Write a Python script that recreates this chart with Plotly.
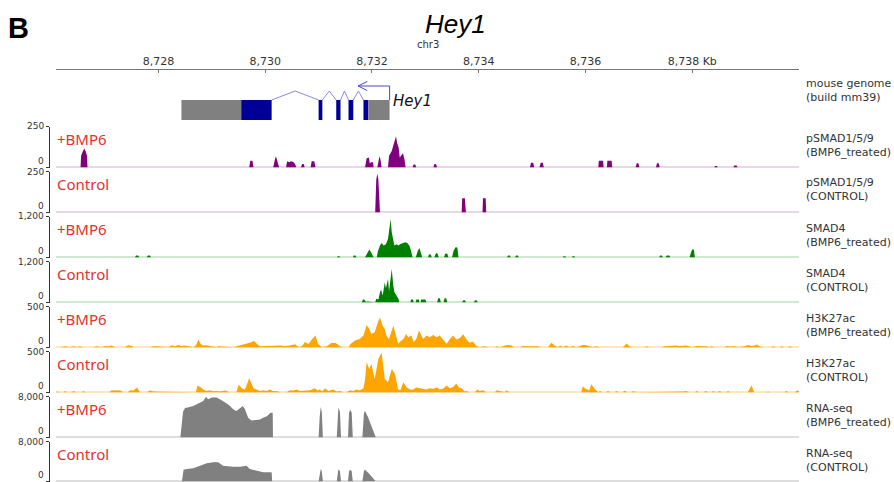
import plotly.graph_objects as go

# ---------------- data (positions in kb on chr3) ----------------
axis_ticks_kb = [8728, 8730, 8732, 8734, 8736, 8738]
axis_tick_labels = ["8,728", "8,730", "8,732", "8,734", "8,736", "8,738 Kb"]
view_kb = [8726.08, 8740.0]

# gene model Hey1 (minus strand)
exon_start = [8728.43, 8729.55, 8731.00, 8731.33, 8731.56, 8731.84, 8731.93]
exon_end   = [8729.55, 8730.12, 8731.07, 8731.41, 8731.65, 8731.93, 8732.33]
exon_kind  = ["utr", "cds", "cds", "cds", "cds", "cds", "utr"]
intron_start = [8730.12, 8731.07, 8731.41, 8731.65]
intron_end   = [8731.00, 8731.33, 8731.56, 8731.84]
tss_kb = 8732.33
arrow_tip_kb = 8731.74

track_names = ["pSMAD1/5/9<br>(BMP6_treated)", "pSMAD1/5/9<br>(CONTROL)",
               "SMAD4<br>(BMP6_treated)", "SMAD4<br>(CONTROL)",
               "H3K27ac<br>(BMP6_treated)", "H3K27ac<br>(CONTROL)",
               "RNA-seq<br>(BMP6_treated)", "RNA-seq<br>(CONTROL)"]
condition = ["+BMP6", "Control"] * 4
track_max = [250, 250, 1200, 1200, 500, 500, 8000, 8000]

psmad_bmp6_kb = [8726.54, 8726.55, 8726.58, 8726.61, 8726.64, 8726.66, 8726.67,
                 8729.70, 8729.72, 8729.76, 8729.78,
                 8730.15, 8730.18, 8730.20, 8730.22, 8730.26,
                 8730.39, 8730.41, 8730.45, 8730.48, 8730.52, 8730.56, 8730.58,
                 8730.67, 8730.69, 8730.72, 8730.74,
                 8730.85, 8730.87, 8730.92, 8730.94,
                 8731.87, 8731.90, 8731.94, 8731.96, 8731.98, 8732.02, 8732.03,
                 8732.10, 8732.12, 8732.14, 8732.16, 8732.18,
                 8732.30, 8732.32, 8732.37, 8732.40, 8732.43, 8732.45, 8732.47, 8732.50,
                 8732.52, 8732.55, 8732.58, 8732.61, 8732.63,
                 8732.76, 8732.78, 8732.81, 8732.83,
                 8733.15, 8733.17, 8733.20, 8733.22,
                 8734.96, 8734.98, 8735.02, 8735.04,
                 8735.14, 8735.16, 8735.20, 8735.22,
                 8736.24, 8736.25, 8736.33, 8736.34,
                 8736.40, 8736.41, 8736.49, 8736.50,
                 8736.94, 8736.96, 8736.99, 8737.01,
                 8737.32, 8737.34, 8737.37, 8737.39,
                 8738.41, 8738.43, 8738.46, 8738.48,
                 8738.77, 8738.79, 8738.83, 8738.85]
psmad_bmp6_val = [0, 70, 95, 115, 95, 70, 0,
                  0, 40, 40, 0,
                  0, 45, 67, 45, 0,
                  0, 36, 30, 36, 34, 20, 0,
                  0, 20, 20, 0,
                  0, 36, 36, 0,
                  0, 55, 60, 22, 30, 30, 0,
                  0, 50, 67, 45, 0,
                  0, 70, 100, 140, 170, 190, 150, 120, 60, 70, 85, 45, 0,
                  0, 16, 16, 0,
                  0, 20, 18, 0,
                  0, 28, 28, 0,
                  0, 28, 28, 0,
                  0, 40, 40, 0,
                  0, 40, 40, 0,
                  0, 24, 24, 0,
                  0, 24, 24, 0,
                  0, 8, 8, 0,
                  0, 10, 10, 0]

psmad_ctrl_kb = [8732.06, 8732.08, 8732.10, 8732.12, 8732.15,
                 8733.68, 8733.69, 8733.74, 8733.76,
                 8734.07, 8734.08, 8734.13, 8734.14]
psmad_ctrl_val = [0, 200, 238, 200, 0,
                  0, 85, 85, 0,
                  0, 85, 85, 0]

smad4_bmp6_kb = [8727.56, 8727.58, 8727.62, 8727.64,
                 8727.78, 8727.80, 8727.84, 8727.86,
                 8731.34, 8731.36, 8731.39, 8731.41,
                 8731.64, 8731.66, 8731.69, 8731.71,
                 8731.87, 8731.90, 8731.95, 8731.99, 8732.03,
                 8732.09, 8732.11, 8732.15, 8732.18, 8732.22, 8732.26, 8732.30, 8732.32,
                 8732.35, 8732.37, 8732.40, 8732.42, 8732.46, 8732.50, 8732.53, 8732.57,
                 8732.62, 8732.66, 8732.70, 8732.73, 8732.76,
                 8732.82, 8732.86, 8732.89, 8732.92, 8732.94,
                 8733.05, 8733.07, 8733.10, 8733.12,
                 8733.17, 8733.20, 8733.23, 8733.25,
                 8733.35, 8733.37, 8733.41, 8733.43,
                 8733.50, 8733.53, 8733.57, 8733.60, 8733.62,
                 8734.53, 8734.55, 8734.58, 8734.60,
                 8734.68, 8734.70, 8734.73, 8734.75,
                 8735.57, 8735.59, 8735.62, 8735.64,
                 8735.74, 8735.76, 8735.79, 8735.81,
                 8737.38, 8737.40, 8737.43, 8737.45,
                 8737.50, 8737.52, 8737.57, 8737.59,
                 8737.95, 8737.98, 8738.00, 8738.03, 8738.05]
smad4_bmp6_val = [0, 50, 50, 0,
                  0, 50, 50, 0,
                  0, 30, 30, 0,
                  0, 50, 50, 0,
                  0, 100, 225, 120, 0,
                  0, 166, 342, 420, 342, 381, 537, 830,
                  1123, 733, 440, 342, 381, 342, 391, 420,
                  440, 420, 342, 195, 0,
                  0, 200, 264, 120, 0,
                  0, 88, 80, 0,
                  0, 127, 100, 0,
                  0, 100, 107, 0,
                  0, 200, 303, 280, 0,
                  0, 50, 50, 0,
                  0, 50, 50, 0,
                  0, 30, 30, 0,
                  0, 30, 30, 0,
                  0, 50, 50, 0,
                  0, 50, 50, 0,
                  0, 150, 225, 225, 0]

smad4_ctrl_kb = [8731.81, 8731.83, 8731.86, 8731.88,
                 8731.89, 8731.90, 8731.95, 8731.96,
                 8732.06, 8732.08, 8732.12, 8732.15, 8732.17, 8732.20, 8732.24, 8732.26,
                 8732.30, 8732.32, 8732.35, 8732.37, 8732.40, 8732.42, 8732.46, 8732.50, 8732.51,
                 8732.72, 8732.73, 8732.77, 8732.78,
                 8732.82, 8732.83, 8732.88, 8732.89,
                 8732.91, 8732.92, 8733.00, 8733.02,
                 8733.22, 8733.24, 8733.27, 8733.29,
                 8733.34, 8733.36, 8733.39, 8733.41,
                 8733.69, 8733.71, 8733.74, 8733.76,
                 8733.91, 8733.93, 8733.96, 8733.98]
smad4_ctrl_val = [0, 78, 70, 0,
                  0, 20, 20, 0,
                  0, 98, 78, 293, 371, 195, 586, 410,
                  684, 332, 684, 977, 488, 293, 195, 78, 0,
                  0, 78, 78, 0,
                  0, 78, 78, 0,
                  0, 78, 78, 0,
                  0, 117, 117, 0,
                  0, 117, 117, 0,
                  0, 59, 59, 0,
                  0, 59, 59, 0]

h3k27ac_bmp6_kb = [8726.16, 8726.25, 8726.34, 8726.41, 8726.47, 8726.53, 8726.59, 8726.78, 8726.84,
                   8726.90, 8726.94, 8727.00, 8727.06, 8727.12, 8727.19, 8727.37, 8727.43, 8727.50,
                   8727.53, 8727.84, 8727.90, 8727.97, 8728.03, 8728.09, 8728.18, 8728.25, 8728.31,
                   8728.37, 8728.43, 8728.50, 8728.59, 8728.65, 8728.70, 8728.75, 8728.79, 8728.84,
                   8728.90, 8728.96, 8729.03, 8729.09, 8729.12, 8729.21, 8729.31, 8729.40, 8729.46,
                   8729.56, 8729.65, 8729.71, 8729.79, 8729.84, 8729.90, 8729.99, 8730.09, 8730.18,
                   8730.28, 8730.37, 8730.46, 8730.56, 8730.60, 8730.65, 8730.70, 8730.74, 8730.81,
                   8730.87, 8730.94, 8730.99, 8731.06, 8731.15, 8731.24, 8731.32, 8731.40, 8731.46,
                   8731.56, 8731.60, 8731.68, 8731.77, 8731.84, 8731.90, 8731.95, 8731.99, 8732.05,
                   8732.12, 8732.15, 8732.20, 8732.24, 8732.27, 8732.32, 8732.37, 8732.40, 8732.45,
                   8732.49, 8732.53, 8732.59, 8732.64, 8732.68, 8732.74, 8732.78, 8732.83, 8732.88,
                   8732.96, 8733.02, 8733.08, 8733.15, 8733.21, 8733.27, 8733.33, 8733.40, 8733.46,
                   8733.52, 8733.58, 8733.64, 8733.71, 8733.77, 8733.83, 8733.89, 8733.96, 8734.02,
                   8734.11, 8734.18, 8734.30, 8734.34, 8734.39, 8734.46, 8734.53, 8734.61, 8734.67,
                   8734.77, 8734.83, 8734.92, 8735.02, 8735.11, 8735.17, 8735.30, 8735.36, 8735.42,
                   8735.49, 8735.52, 8735.58, 8735.64, 8735.70, 8735.77, 8735.83, 8735.89, 8735.95,
                   8736.02, 8736.08, 8736.14, 8736.20, 8736.27, 8736.70, 8736.77, 8736.83, 8736.89,
                   8737.11, 8737.14, 8737.20, 8737.42, 8737.48, 8737.58, 8737.64, 8737.70, 8737.76,
                   8737.83, 8737.89, 8737.95, 8738.01, 8738.08, 8738.14, 8738.20, 8738.26, 8738.33,
                   8738.36, 8738.42, 8738.61, 8738.64, 8738.70, 8738.79, 8738.86, 8738.98, 8739.04,
                   8739.11, 8739.17, 8739.21, 8739.26, 8739.33, 8739.48, 8739.51, 8739.58, 8739.64,
                   8739.67, 8739.73, 8739.79, 8739.82, 8739.89]
h3k27ac_bmp6_val = [0, 12, 0, 12, 0, 12, 0, 0, 12,
                    0, 0, 16, 12, 20, 0, 0, 24, 16,
                    0, 0, 12, 12, 8, 0, 0, 24, 12,
                    28, 16, 20, 12, 0, 20, 94, 40, 20,
                    24, 16, 0, 0, 12, 8, 12, 0, 12,
                    28, 49, 53, 77, 41, 12, 16, 20, 16,
                    20, 16, 20, 37, 12, 0, 20, 65, 40,
                    90, 143, 40, 0, 12, 50, 50, 12, 0,
                    0, 40, 81, 102, 143, 272, 224, 163, 183,
                    326, 366, 264, 224, 143, 102, 204, 264, 143,
                    41, 69, 102, 163, 122, 143, 61, 102, 204,
                    102, 143, 122, 151, 122, 143, 94, 41, 102,
                    143, 94, 110, 159, 94, 53, 69, 12, 0,
                    12, 0, 0, 12, 0, 16, 28, 20, 0,
                    0, 16, 12, 16, 12, 0, 0, 53, 20,
                    0, 20, 0, 20, 0, 16, 0, 16, 28,
                    24, 12, 0, 12, 0, 0, 45, 8, 0,
                    0, 12, 0, 0, 12, 16, 24, 20, 16,
                    16, 20, 8, 0, 16, 16, 20, 12, 0,
                    12, 0, 0, 16, 8, 12, 0, 12, 28,
                    16, 20, 32, 12, 0, 0, 12, 0, 0,
                    12, 0, 0, 12, 0]

h3k27ac_ctrl_kb = [8726.03, 8726.09, 8726.16, 8726.22, 8726.25, 8726.29, 8726.36, 8726.41, 8726.46,
                   8726.56, 8726.59, 8726.64, 8727.08, 8727.12, 8727.19, 8727.28, 8727.34, 8727.42,
                   8727.47, 8727.53, 8727.60, 8727.65, 8727.79, 8727.84, 8727.90, 8727.97, 8728.03,
                   8728.43, 8728.47, 8728.53, 8728.70, 8728.73, 8728.78, 8728.84, 8728.90, 8728.96,
                   8729.03, 8729.09, 8729.15, 8729.25, 8729.34, 8729.46, 8729.50, 8729.56, 8729.62,
                   8729.70, 8729.75, 8729.78, 8729.84, 8729.90, 8729.96, 8730.03, 8730.09, 8730.15,
                   8730.21, 8730.28, 8730.40, 8730.46, 8730.53, 8730.59, 8730.65, 8730.71, 8730.77,
                   8730.84, 8730.93, 8730.98, 8731.02, 8731.07, 8731.12, 8731.18, 8731.27, 8731.34,
                   8731.40, 8731.46, 8731.52, 8731.59, 8731.65, 8731.71, 8731.77, 8731.84, 8731.87,
                   8731.90, 8731.95, 8731.99, 8732.05, 8732.12, 8732.18, 8732.21, 8732.24, 8732.30,
                   8732.37, 8732.43, 8732.47, 8732.49, 8732.53, 8732.59, 8732.65, 8732.71, 8732.77,
                   8732.83, 8732.90, 8732.96, 8733.02, 8733.08, 8733.15, 8733.21, 8733.27, 8733.33,
                   8733.40, 8733.46, 8733.52, 8733.58, 8733.63, 8733.68, 8733.74, 8733.77, 8733.83,
                   8733.93, 8733.97, 8734.02, 8734.08, 8734.14, 8734.30, 8734.34, 8734.39, 8734.44,
                   8734.49, 8734.52, 8734.57, 8735.92, 8735.95, 8736.00, 8736.07, 8736.11, 8736.17,
                   8736.24, 8736.27, 8736.32, 8736.39, 8736.42, 8736.47, 8736.55, 8736.58, 8736.63,
                   8736.70, 8736.73, 8736.78, 8736.86, 8736.89, 8736.94, 8737.64, 8737.70, 8737.83,
                   8737.89, 8737.94, 8738.05, 8738.08, 8738.13, 8738.21, 8738.25, 8738.30, 8738.36,
                   8738.39, 8738.44, 8738.47, 8738.51, 8738.56, 8738.63, 8738.67, 8738.71, 8739.04,
                   8739.11, 8739.16, 8739.39, 8739.42, 8739.46, 8739.73, 8739.76, 8739.81, 8739.92,
                   8739.97, 8740.01]
h3k27ac_ctrl_val = [0, 8, 0, 0, 16, 0, 0, 16, 0,
                    0, 16, 0, 0, 24, 20, 24, 0, 0,
                    24, 20, 57, 0, 0, 24, 8, 8, 0,
                    0, 8, 0, 0, 81, 65, 33, 16, 24,
                    12, 16, 8, 20, 0, 0, 90, 49, 33,
                    171, 90, 49, 33, 16, 24, 16, 33, 12,
                    16, 0, 0, 24, 20, 33, 16, 16, 20,
                    24, 49, 20, 33, 12, 49, 16, 33, 8,
                    16, 0, 0, 24, 16, 33, 20, 49, 160,
                    367, 285, 346, 163, 407, 488, 300, 163, 122,
                    285, 224, 100, 33, 24, 122, 57, 33, 33,
                    57, 49, 41, 33, 49, 41, 57, 33, 41,
                    81, 49, 65, 106, 57, 49, 8, 16, 0,
                    0, 33, 16, 24, 0, 0, 24, 16, 0,
                    0, 24, 0, 0, 73, 41, 24, 98, 41,
                    0, 16, 0, 0, 16, 0, 0, 16, 0,
                    0, 20, 0, 0, 16, 0, 0, 8, 8,
                    16, 0, 0, 16, 0, 0, 16, 0, 0,
                    16, 0, 0, 16, 0, 0, 16, 0, 0,
                    81, 0, 0, 8, 0, 0, 16, 0, 0,
                    24, 8]

rna_bmp6_kb = [8728.41, 8728.46, 8728.50, 8728.53, 8728.65, 8728.78, 8728.84, 8728.89, 8728.93,
               8729.00, 8729.09, 8729.15, 8729.21, 8729.28, 8729.34, 8729.40, 8729.46, 8729.53,
               8729.58, 8729.62, 8729.68, 8729.74, 8729.84, 8729.90, 8729.96, 8730.03, 8730.10,
               8730.14, 8730.145,
               8731.00, 8731.02, 8731.04, 8731.06, 8731.08,
               8731.34, 8731.36, 8731.37, 8731.40, 8731.42,
               8731.55, 8731.57, 8731.59, 8731.62, 8731.64,
               8731.82, 8731.85, 8731.87, 8731.93, 8731.99, 8732.07]
rna_bmp6_val = [0, 5000, 5800, 5800, 6130, 6800, 7130, 7950, 7470,
                7800, 7800, 7470, 7130, 6600, 6130, 5470, 5130, 5800,
                6130, 5470, 3800, 3270, 3470, 3470, 3800, 4130, 4800,
                4800, 0,
                0, 4000, 5930, 5000, 0,
                0, 5200, 5800, 5000, 0,
                0, 4800, 5400, 4800, 0,
                0, 4800, 5130, 3800, 2130, 0]

rna_ctrl_kb = [8728.44, 8728.47, 8728.53, 8728.65, 8728.78, 8728.90, 8729.03, 8729.12, 8729.21,
               8729.30, 8729.40, 8729.53, 8729.65, 8729.71, 8729.84, 8729.96, 8730.12, 8730.13,
               8731.00, 8731.02, 8731.04, 8731.06, 8731.08,
               8731.34, 8731.36, 8731.37, 8731.40, 8731.42,
               8731.55, 8731.57, 8731.59, 8731.62, 8731.64,
               8731.82, 8731.85, 8731.87, 8731.93, 8731.99, 8732.07]
rna_ctrl_val = [0, 2330, 2470, 2600, 3130, 3600, 3800, 3800, 3130,
                3000, 2930, 2930, 3130, 2470, 2130, 1800, 1800, 0,
                0, 1800, 2470, 2000, 0,
                0, 2200, 2400, 2000, 0,
                0, 2000, 2300, 2000, 0,
                0, 2100, 2300, 1700, 1000, 0]

track_kb = [psmad_bmp6_kb, psmad_ctrl_kb, smad4_bmp6_kb, smad4_ctrl_kb,
            h3k27ac_bmp6_kb, h3k27ac_ctrl_kb, rna_bmp6_kb, rna_ctrl_kb]
track_val = [psmad_bmp6_val, psmad_ctrl_val, smad4_bmp6_val, smad4_ctrl_val,
             h3k27ac_bmp6_val, h3k27ac_ctrl_val, rna_bmp6_val, rna_ctrl_val]

# ---------------- styling ----------------
W, H = 894, 482
fill_colors = ["#800080", "#800080", "#008000", "#008000",
               "#ffa500", "#ffa500", "#808080", "#808080"]
base_colors = ["#ead6ea", "#ead6ea", "#cfe8cf", "#cfe8cf",
               "#ffe7c2", "#ffe7c2", "#dddddd", "#dddddd"]
RED = "#e5302e"
LABEL_FONT = dict(family="DejaVu Sans", size=11, color="#333333")
TICK_FONT = dict(family="DejaVu Sans", size=9, color="#333333")


def py(p):
    return 1 - p / H


X_DOM = [56 / W, 799 / W]
TRACK_TOP0, TRACK_STEP, TRACK_H = 126.5, 45.0, 41.5

fig = go.Figure()
layout_axes = {}

# gene panel axis (domain px 70..122), y units: 5 px per unit
layout_axes["yaxis"] = dict(domain=[py(122), py(70)], range=[0, 10.4], visible=False,
                            fixedrange=True)
layout_axes["xaxis"] = dict(domain=X_DOM, range=view_kb, anchor="y", side="top",
                            showline=True, linecolor="#777777", linewidth=1,
                            ticks="inside", ticklen=3, tickcolor="#777777",
                            tickvals=axis_ticks_kb, ticktext=axis_tick_labels,
                            tickfont=LABEL_FONT, showgrid=False, zeroline=False)

annotations = []
for i in range(8):
    top = TRACK_TOP0 + TRACK_STEP * i
    bot = min(top + TRACK_H, H)
    yname = "y%d" % (i + 2)
    m = track_max[i]
    layout_axes["yaxis%d" % (i + 2)] = dict(
        domain=[max(py(bot), 0), py(top)], range=[-m * 0.02, m],
        anchor="free", position=49 / W, showline=True,
        linecolor="#333333", linewidth=1, ticks="outside",
        ticklen=3, tickcolor="#333333", tickvals=[0, m], showticklabels=False,
        showgrid=False, zeroline=True,
        zerolinecolor=base_colors[i], zerolinewidth=1.5, fixedrange=True)
    fig.add_trace(go.Scatter(x=track_kb[i], y=track_val[i], xaxis="x", yaxis=yname,
                             mode="lines", fill="tozeroy", fillcolor=fill_colors[i],
                             line=dict(color=fill_colors[i], width=0), hoverinfo="skip",
                             showlegend=False))
    # axis value labels (max at top, 0 sitting on baseline)
    annotations.append(dict(text=f"{m:,}", x=45 / W, y=m, xref="paper", yref=yname,
                            xanchor="right", yanchor="middle", showarrow=False,
                            font=TICK_FONT, borderpad=0))
    annotations.append(dict(text="0", x=45 / W, y=0, xref="paper", yref=yname,
                            xanchor="right", yanchor="bottom", showarrow=False,
                            font=TICK_FONT, borderpad=0))
    annotations.append(dict(text=condition[i], x=55 / W, y=py(top + 12), xref="paper",
                            yref="paper", xanchor="left", yanchor="middle", showarrow=False,
                            font=dict(family="Noto Sans", size=15, color=RED)))
    annotations.append(dict(text=track_names[i], x=804 / W, y=py(top + 18.5), xref="paper",
                            yref="paper", xanchor="left", yanchor="middle", showarrow=False,
                            align="left", font=LABEL_FONT))

# gene model
EX_LO, EX_HI, INTRON_PEAK, ARROW_Y = 0.4, 4.4, 6.2, 7.2
shapes = []
for s, e, k in zip(exon_start, exon_end, exon_kind):
    shapes.append(dict(type="rect", xref="x", yref="y", x0=s, x1=e, y0=EX_LO, y1=EX_HI,
                       fillcolor="#808080" if k == "utr" else "#000099",
                       line=dict(width=0), layer="above"))

ix, iy = [], []
for s, e in zip(intron_start, intron_end):
    ix += [s, (s + e) / 2, e, None]
    iy += [EX_HI, INTRON_PEAK, EX_HI, None]
fig.add_trace(go.Scatter(x=ix, y=iy, xaxis="x", yaxis="y", mode="lines",
                         line=dict(color="#8a8ae0", width=1), hoverinfo="skip",
                         showlegend=False))
# TSS arrow
head_dx, head_dy = 0.17, 0.9
fig.add_trace(go.Scatter(x=[tss_kb, tss_kb, arrow_tip_kb, None,
                            arrow_tip_kb + head_dx, arrow_tip_kb, arrow_tip_kb + head_dx],
                         y=[EX_HI, ARROW_Y, ARROW_Y, None,
                            ARROW_Y + head_dy, ARROW_Y, ARROW_Y - head_dy],
                         xaxis="x", yaxis="y", mode="lines",
                         line=dict(color="#4a4ac8", width=1), hoverinfo="skip",
                         showlegend=False))
annotations.append(dict(text="<i>Hey1</i>", x=tss_kb + 0.03, y=EX_HI - 0.2,
                        xref="x", yref="y", xanchor="left", yanchor="middle",
                        showarrow=False,
                        font=dict(family="DejaVu Sans", size=15, color="#111111")))

# header texts
annotations += [
    dict(text="<b>B</b>", x=6 / W, y=py(28), xref="paper", yref="paper", xanchor="left",
         yanchor="middle", showarrow=False,
         font=dict(family="Liberation Sans", size=29, color="#000000")),
    dict(text="<i>Hey1</i>", x=455 / W, y=py(24), xref="paper", yref="paper",
         xanchor="center", yanchor="middle", showarrow=False,
         font=dict(family="Liberation Sans", size=26, color="#000000")),
    dict(text="chr3", x=428 / W, y=py(44), xref="paper", yref="paper", xanchor="center",
         yanchor="middle", showarrow=False,
         font=dict(family="DejaVu Sans", size=10, color="#333333")),
    dict(text="mouse genome<br>(build mm39)", x=804 / W, y=py(90.5), xref="paper",
         yref="paper", xanchor="left", yanchor="middle", showarrow=False, align="left",
         font=LABEL_FONT),
]

fig.update_layout(width=W, height=H, margin=dict(l=0, r=0, t=0, b=0),
                  paper_bgcolor="white", plot_bgcolor="white",
                  annotations=annotations, shapes=shapes, showlegend=False,
                  **layout_axes)

fig.write_html("out.html", config={"displayModeBar": False},
               post_script="document.body.style.margin='0';"
                           "document.body.style.overflow='hidden';")
